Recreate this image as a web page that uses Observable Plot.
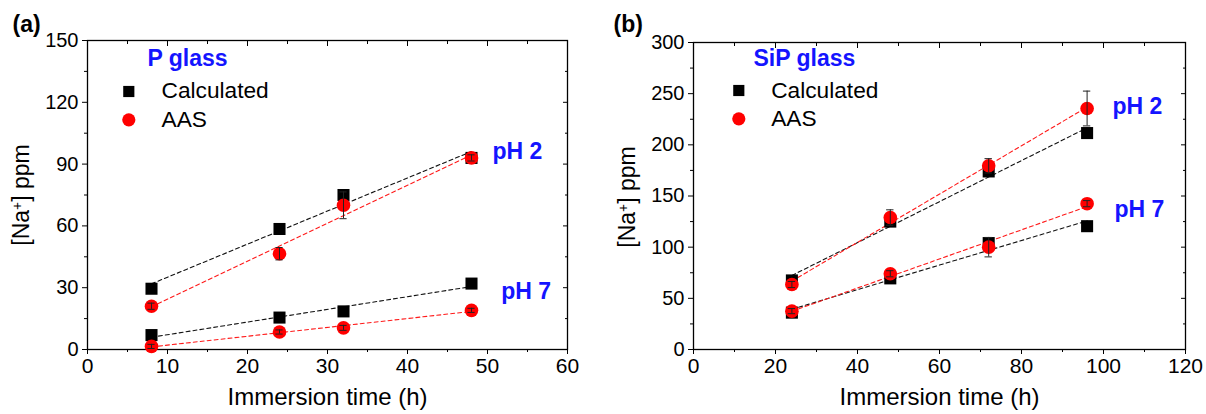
<!DOCTYPE html>
<html><head><meta charset="utf-8">
<script src="https://cdn.jsdelivr.net/npm/d3@7"></script>
<script src="https://cdn.jsdelivr.net/npm/@observablehq/plot@0.6"></script>
<style>
body{margin:0;background:#fff;}
#wrap{display:flex;width:1206px;height:414px;overflow:hidden;}
svg{font-family:"Liberation Sans",Arial,sans-serif;}
</style>
</head><body><div id="wrap"></div>
<script>
// ---- Panel (a): P glass ----
const timesA = [8, 24, 32, 48];
const calcA_pH2 = [29.5, 58.5, 75, 93];
const aasA_pH2 = [21, 46.5, 70, 93];
const aasA_pH2_err = [1.5, 3, 6.5, 1.5];
const calcA_pH7 = [7, 15.5, 18.5, 32];
const aasA_pH7 = [1.5, 8.5, 10.5, 19];
const aasA_pH7_err = [1, 1, 1.2, 1];
const xTicksA = [0, 10, 20, 30, 40, 50, 60];
const xMinorA = [5, 15, 25, 35, 45, 55];
const yTicksA = [0, 30, 60, 90, 120, 150];
const yMinorA = [15, 45, 75, 105, 135];

// ---- Panel (b): SiP glass ----
const timesB = [24, 48, 72, 96];
const calcB_pH2 = [67.5, 125, 174, 211.5];
const aasB_pH2 = [63.5, 129, 179.5, 235.5];
const aasB_pH2_err = [3, 7.5, 7, 17];
const calcB_pH7 = [36, 69.5, 104, 120.5];
const aasB_pH7 = [37.5, 74, 100, 142.5];
const aasB_pH7_err = [2.5, 3, 9.5, 3];
const xTicksB = [0, 20, 40, 60, 80, 100, 120];
const xMinorB = [10, 30, 50, 70, 90, 110];
const yTicksB = [0, 50, 100, 150, 200, 250, 300];
const yMinorB = [25, 75, 125, 175, 225, 275];

const seriesNames = ["Calculated", "AAS"];
const xTitle = "Immersion time (h)";
const BLUE = "#1414ff";

function rows(t, v, e) { return t.map((x, i) => ({t: x, v: v[i], e: e ? e[i] : 0})); }

function panel(cfg) {
  const c2 = rows(cfg.times, cfg.calc2), a2 = rows(cfg.times, cfg.aas2, cfg.aas2e);
  const c7 = rows(cfg.times, cfg.calc7), a7 = rows(cfg.times, cfg.aas7, cfg.aas7e);
  const cap = cfg.cap;
  const fa = cfg.fa;
  const dash = {strokeDasharray: "4,3", strokeWidth: 1.1, ci: 0};
  const errMarks = (d) => [
    Plot.ruleX(d, {x: "t", y1: r => r.v - r.e, y2: r => r.v + r.e, stroke: "#222", strokeWidth: 1}),
    Plot.ruleY(d, {y: r => r.v + r.e, x1: r => r.t - cap, x2: r => r.t + cap, stroke: "#222", strokeWidth: 1}),
    Plot.ruleY(d, {y: r => r.v - r.e, x1: r => r.t - cap, x2: r => r.t + cap, stroke: "#222", strokeWidth: 1})
  ];
  const t = (txt, o) => Plot.text([txt], {text: d => d, frameAnchor: "top-left", textAnchor: "start", lineAnchor: "middle", ...o});
  const chart = Plot.plot({
    width: 603, height: 414,
    marginLeft: cfg.ml, marginRight: cfg.mr, marginTop: cfg.mt, marginBottom: cfg.mb,
    x: {domain: cfg.xDomain},
    y: {domain: cfg.yDomain},
    style: {fontFamily: "Liberation Sans, Arial, sans-serif", color: "black", background: "white", overflow: "visible"},
    marks: [
      Plot.axisX({ticks: cfg.xTicks, tickSize: 5, tickPadding: 4, fontSize: 21, label: null, tickFormat: d => d}),
      Plot.axisX({ticks: cfg.xMinor, tickSize: 3, tickFormat: () => "", label: null}),
      Plot.axisX({anchor: "top", ticks: cfg.xTicks, tickSize: -5, tickFormat: () => "", label: null}),
      Plot.axisX({anchor: "top", ticks: cfg.xMinor, tickSize: -3, tickFormat: () => "", label: null}),
      Plot.axisY({ticks: cfg.yTicks, tickSize: 5, tickPadding: 4, fontSize: 20, label: null, tickFormat: d => d}),
      Plot.axisY({ticks: cfg.yMinor, tickSize: 3, tickFormat: () => "", label: null}),
      Plot.axisY({anchor: "right", ticks: cfg.yTicks, tickSize: -5, tickFormat: () => "", label: null}),
      Plot.axisY({anchor: "right", ticks: cfg.yMinor, tickSize: -3, tickFormat: () => "", label: null}),
      Plot.frame({stroke: "black", strokeWidth: 1.3}),
      Plot.linearRegressionY(c2, {x: "t", y: "v", stroke: "#111", ...dash}),
      Plot.linearRegressionY(a2, {x: "t", y: "v", stroke: "#ff1a1a", ...dash}),
      Plot.linearRegressionY(c7, {x: "t", y: "v", stroke: "#111", ...dash}),
      Plot.linearRegressionY(a7, {x: "t", y: "v", stroke: "#ff1a1a", ...dash}),
      Plot.dot(c2, {x: "t", y: "v", symbol: "square", r: 6.8, fill: "black"}),
      Plot.dot(c7, {x: "t", y: "v", symbol: "square", r: 6.8, fill: "black"}),
      Plot.dot(a2, {x: "t", y: "v", r: 6.8, fill: "#ff0000"}),
      Plot.dot(a7, {x: "t", y: "v", r: 6.8, fill: "#ff0000"}),
      ...errMarks(a2), ...errMarks(a7),
      // legend
      t(cfg.title, {dx: fa.title[0], dy: fa.title[1], fontSize: 23, fontWeight: "bold", fill: BLUE}),
      Plot.dot([0], {frameAnchor: "top-left", dx: fa.sq[0], dy: fa.sq[1], symbol: "square", r: 6.3, fill: "black"}),
      Plot.dot([0], {frameAnchor: "top-left", dx: fa.ci[0], dy: fa.ci[1], r: 6.6, fill: "#ff0000"}),
      t(seriesNames[0], {dx: fa.l1[0], dy: fa.l1[1], fontSize: 22.7, fill: "black"}),
      t(seriesNames[1], {dx: fa.l2[0], dy: fa.l2[1], fontSize: 22.7, fill: "black"}),
      t("pH 2", {dx: fa.p2[0], dy: fa.p2[1], fontSize: 23, fontWeight: "bold", fill: BLUE}),
      t("pH 7", {dx: fa.p7[0], dy: fa.p7[1], fontSize: 23, fontWeight: "bold", fill: BLUE}),
      t(cfg.tag, {dx: fa.tag[0], dy: fa.tag[1], fontSize: 23, fontWeight: "bold", fill: "black"}),
      Plot.text([xTitle], {text: d => d, frameAnchor: "bottom", dy: 48, lineAnchor: "middle", fontSize: 24, fill: "black"})
    ]
  });
  const svg = d3.select(chart);
  const yl = svg.append("text")
    .attr("transform", `translate(${cfg.ylx},${cfg.yly}) rotate(-90)`)
    .attr("text-anchor", "middle").attr("font-size", 23).attr("fill", "black")
    .attr("font-family", "Liberation Sans, Arial, sans-serif");
  yl.append("tspan").text("[Na");
  yl.append("tspan").attr("baseline-shift", "super").attr("font-size", "0.6em").text("+");
  yl.append("tspan").text("] ppm");
  return chart;
}

const wrap = document.getElementById("wrap");
wrap.appendChild(panel({
  times: timesA, calc2: calcA_pH2, aas2: aasA_pH2, aas2e: aasA_pH2_err,
  calc7: calcA_pH7, aas7: aasA_pH7, aas7e: aasA_pH7_err,
  xDomain: [0, 60], yDomain: [0, 150], xTicks: xTicksA, xMinor: xMinorA, yTicks: yTicksA, yMinor: yMinorA,
  ml: 87, mr: 36, mt: 40, mb: 65, cap: 0.45, title: "P glass", tag: "(a)",
  ylx: 28.5, yly: 195,
  fa: {title: [60, 18.6], sq: [41.3, 51], ci: [41.3, 79.3], l1: [74, 50.7], l2: [74, 79.4],
       p2: [405, 111.6], p7: [413.7, 251.6], tag: [-75, -16]}
}));
wrap.appendChild(panel({
  times: timesB, calc2: calcB_pH2, aas2: aasB_pH2, aas2e: aasB_pH2_err,
  calc7: calcB_pH7, aas7: aasB_pH7, aas7e: aasB_pH7_err,
  xDomain: [0, 120], yDomain: [0, 300], xTicks: xTicksB, xMinor: xMinorB, yTicks: yTicksB, yMinor: yMinorB,
  ml: 90, mr: 21, mt: 42, mb: 65, cap: 0.9, title: "SiP glass", tag: "(b)",
  ylx: 32, yly: 197,
  fa: {title: [60, 16.6], sq: [45.3, 48], ci: [45.3, 76.3], l1: [77.7, 48.4], l2: [77.7, 76.4],
       p2: [419, 64], p7: [421, 167.4], tag: [-80, -18]}
}));
</script>
</body></html>
